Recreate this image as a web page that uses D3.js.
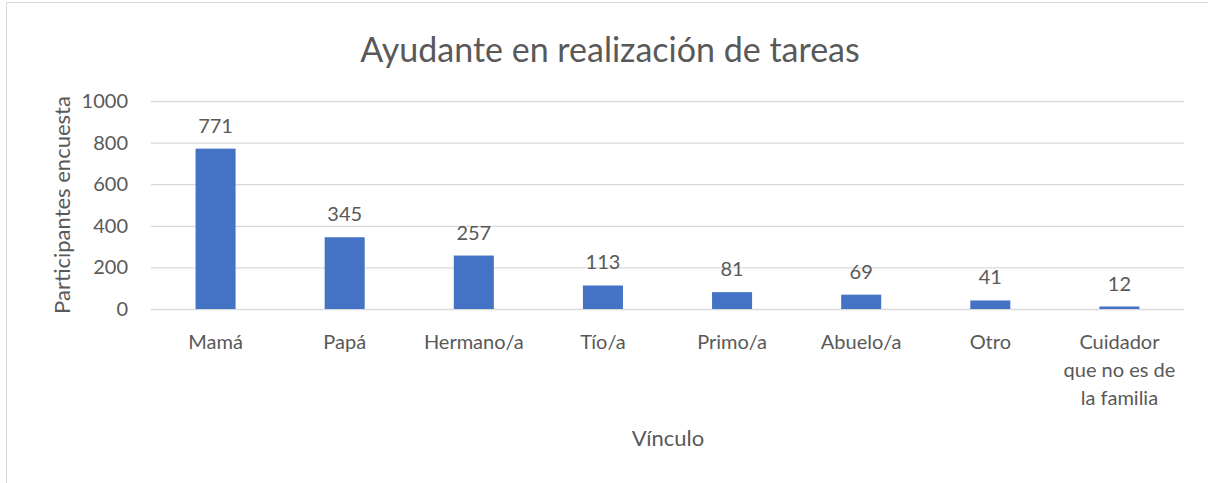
<!DOCTYPE html>
<html>
<head>
<meta charset="utf-8">
<script src="https://d3js.org/d3.v7.min.js"></script>
<style>
  body { margin: 0; background: #fff; }
  text { font-family: Lato, "Open Sans", sans-serif; fill: #595959; }
</style>
</head>
<body>
<script>
// data
var categories = ["Mamá", "Papá", "Hermano/a", "Tío/a", "Primo/a", "Abuelo/a", "Otro", "Cuidador que no es de la familia"];
var values = [771, 345, 257, 113, 81, 69, 41, 12];
var yTicks = [0, 200, 400, 600, 800, 1000];

var W = 1208, H = 483;
var margin = {top: 101, right: 24, bottom: 174, left: 151};
var width = W - margin.left - margin.right,
    height = H - margin.top - margin.bottom;

var svg = d3.select("body").append("svg")
    .attr("width", W)
    .attr("height", H);

// outer chart border
svg.append("rect")
    .attr("x", 6.5).attr("y", 2.5)
    .attr("width", W + 10).attr("height", H + 10)
    .attr("fill", "none")
    .attr("stroke", "#d9d9d9");

svg.append("text")
    .attr("x", 610).attr("y", 62)
    .attr("text-anchor", "middle")
    .attr("font-size", "34px")
    .text("Ayudante en realización de tareas");

var g = svg.append("g")
    .attr("transform", "translate(" + margin.left + "," + margin.top + ")");

var x = d3.scaleBand()
    .domain(categories)
    .range([0, width])
    .paddingInner(0.69)
    .paddingOuter(0.345);

var y = d3.scaleLinear()
    .domain([0, 1000])
    .range([height, 0]);

// gridlines + y labels
var yAxis = g.append("g")
    .call(d3.axisLeft(y).tickValues(yTicks).tickSize(-width).tickPadding(23).tickFormat(d3.format("d")));
yAxis.select(".domain").remove();
yAxis.selectAll("line").attr("stroke", "#d9d9d9").attr("stroke-width", 1.3);
yAxis.selectAll("text").attr("font-size", "20px").attr("fill", "#595959").attr("font-family", "Lato, sans-serif");

// bars
g.selectAll("rect.bar")
    .data(values)
    .enter()
    .append("rect")
    .attr("class", "bar")
    .attr("x", function(d, i) { return x(categories[i]); })
    .attr("width", x.bandwidth())
    .attr("y", function(d) { return y(d); })
    .attr("height", function(d) { return height - y(d); })
    .attr("fill", "#4472c4");

// value labels
g.selectAll("text.val")
    .data(values)
    .enter()
    .append("text")
    .attr("class", "val")
    .attr("x", function(d, i) { return x(categories[i]) + x.bandwidth() / 2; })
    .attr("y", function(d) { return y(d) - 16; })
    .attr("text-anchor", "middle")
    .attr("font-size", "20px")
    .text(function(d) { return d; });

// category labels (wrapped)
var wrapped = {"Cuidador que no es de la familia": ["Cuidador", "que no es de", "la familia"]};
var xl = g.append("g").attr("transform", "translate(0," + height + ")");
categories.forEach(function(c) {
    var lines = wrapped[c] || [c];
    var t = xl.append("text")
        .attr("x", x(c) + x.bandwidth() / 2)
        .attr("y", 40)
        .attr("text-anchor", "middle")
        .attr("font-size", "20px");
    lines.forEach(function(l, i) {
        t.append("tspan")
            .attr("x", x(c) + x.bandwidth() / 2)
            .attr("dy", i === 0 ? 0 : 28)
            .text(l);
    });
});

// axis titles
svg.append("text")
    .attr("x", 668).attr("y", 446)
    .attr("text-anchor", "middle")
    .attr("font-size", "22px")
    .text("Vínculo");

svg.append("text")
    .attr("transform", "translate(70,205) rotate(-90)")
    .attr("text-anchor", "middle")
    .attr("font-size", "22px")
    .text("Participantes encuesta");
</script>
</body>
</html>
